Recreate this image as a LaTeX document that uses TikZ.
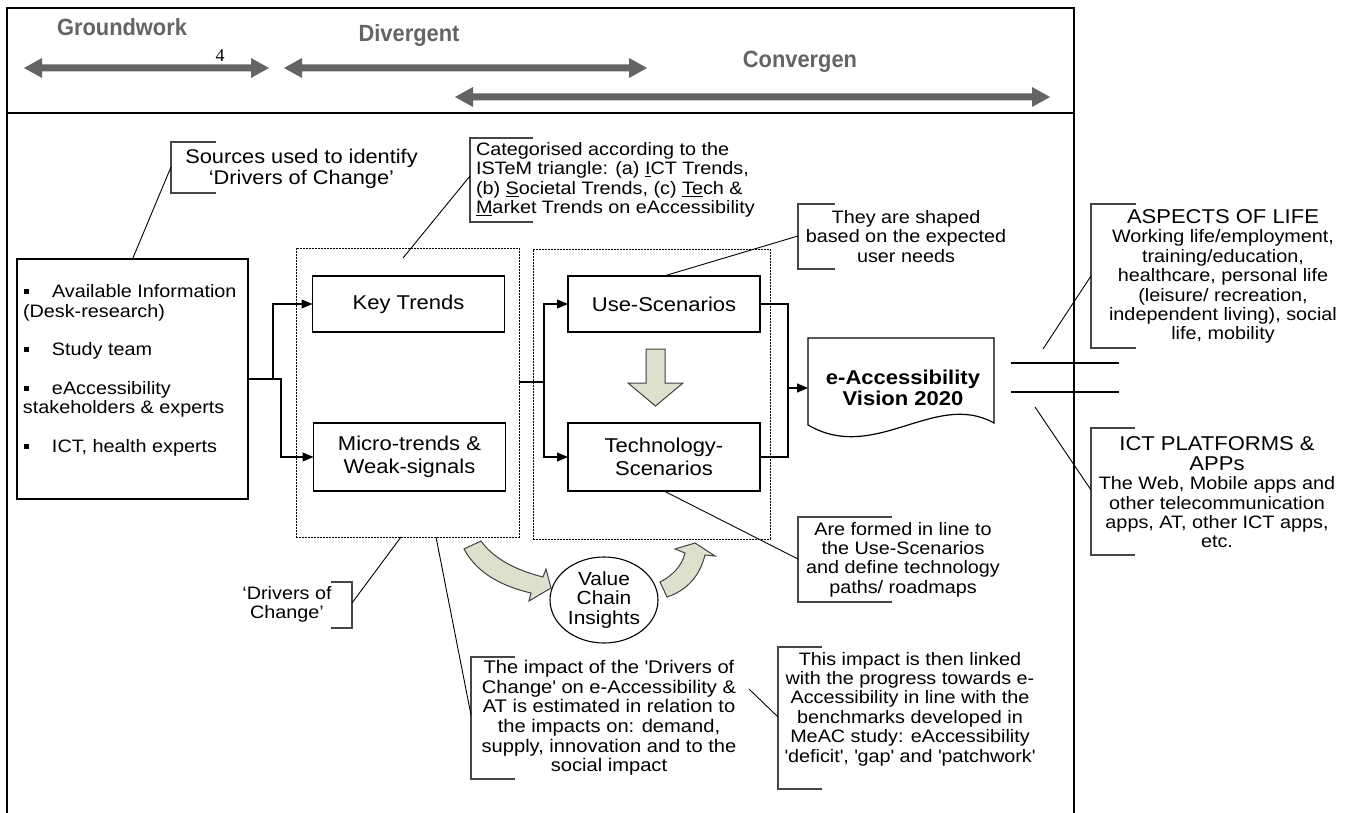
\documentclass[tikz,border=0pt]{standalone}
\usepackage{fontspec}
\setmainfont{Liberation Sans}[FakeStretch=1.1]
\newfontfamily\numfont{Liberation Serif}
\newfontfamily\phasefont{Liberation Sans}[FakeStretch=0.93]
\usetikzlibrary{arrows.meta,calc,shapes.geometric}
\definecolor{arrgray}{RGB}{100,100,100}
\definecolor{sage}{RGB}{220,224,205}
\definecolor{brk}{RGB}{70,70,70}
\newcommand{\PhaseArrow}[3]{\fill[arrgray] (#1,#3) -- (#1+18,#3-10) -- (#1+18,#3-3.5) -- (#2-18,#3-3.5) -- (#2-18,#3-10) -- (#2,#3) -- (#2-18,#3+10) -- (#2-18,#3+3.5) -- (#1+18,#3+3.5) -- (#1+18,#3+10) -- cycle;}
\newcommand{\bul}{\hspace*{1pt}\rule[3.5pt]{5pt}{5pt}\hspace*{23pt}}
\begin{document}
\begin{tikzpicture}[x=1pt,y=-1pt,
  every node/.style={inner sep=0pt, outer sep=0pt},
  box/.style={draw, line width=1.2pt, minimum width=192pt, font=\fontsize{20}{23}\selectfont, align=center},
  cont/.style={draw, line width=0.9pt, dash pattern=on 1.6pt off 1.4pt},
  conn/.style={draw, line width=1.1pt, -{Triangle[length=11pt,width=9pt]}},
  plain/.style={draw, line width=1.1pt},
  note/.style={font=\fontsize{18}{19.4}\selectfont, align=center},
  brack/.style={draw=brk, line width=1.3pt},
  lead/.style={draw, line width=0.9pt},
  frame/.style={draw, line width=2.5pt},
  phase/.style={font=\phasefont\fontsize{23.5}{26}\selectfont\bfseries, text=arrgray},
  blockarr/.style={draw=black!75, line width=1pt, fill=sage},
]
\useasboundingbox (0,0) rectangle (1353,813);

% frame
\draw[frame] (7,813) -- (7,8) -- (1074,8) -- (1074,813);
\draw[frame] (7,113) -- (1074,113);

% phases
\node[phase] (gw) at (122,27) {Groundwork};
\node[phase] (dv) at (409,35) {Divergent};
\node[phase] (cv) at (800,62) {Convergen};
\node[font=\numfont\fontsize{18}{20}\selectfont] (four) at (220,56) {4};
\PhaseArrow{24}{269}{68}
\PhaseArrow{284}{647}{68}
\PhaseArrow{455}{1050}{97}

% sources box
\node[draw, line width=1.2pt, minimum width=231pt, minimum height=240pt] (src) at (132.5,379) {};
\node[note, align=left, anchor=west] (srctxt) at (23,370.5) {\bul Available Information\\(Desk-research)\\[19.3pt]\bul Study team\\[19.3pt]\bul eAccessibility\\stakeholders \& experts\\[19.3pt]\bul ICT, health experts};

% sources callout
\node[note, font=\fontsize{19.8}{21}\selectfont] (srcnote) at (301.5,168.5) {Sources used to identify\\‘Drivers of Change’};
\draw[brack] (216,142) -- (171,142) -- (171,193) -- (216,193);
\coordinate (srcL) at (171,167);
\draw[lead] (srcL) -- (src.north);

% containers
\node[cont, minimum width=223pt, minimum height=289pt] (c1) at (407.5,392.5) {};
\node[cont, minimum width=237pt, minimum height=290pt] (c2) at (651.5,394) {};

% boxes
\node[box, minimum height=56pt] (key) at (408.5,304) {Key Trends};
\node[box, minimum height=68pt] (micro) at (409.5,457) {Micro-trends \&\\Weak-signals};
\node[box, minimum height=56pt] (use) at (664,304) {Use-Scenarios};
\node[box, minimum height=68pt] (tech) at (664,457) {Technology-\\Scenarios};

% connectors
\draw[conn] (src.east) -- ++(25,0) |- (key.west);
\draw[conn] (src.east) -- ++(33,0) |- (micro.west);
\coordinate (j1) at (544,382);
\draw[plain] (c1.east |- j1) -- (j1);
\draw[conn] (j1) |- (use.west);
\draw[conn] (j1) |- (tech.west);

% document
\node[minimum width=186pt, minimum height=87pt] (doc) at (901,381.5) {};
\draw[line width=1.2pt, fill=white] (doc.north west) -- (doc.north east) -- (994,423) .. controls (935,390) and (875,464) .. (808,425) -- cycle;
\node[font=\fontsize{20}{21}\selectfont\bfseries, align=center] (doctxt) at (903,387.5) {e-Accessibility\\Vision 2020};
\coordinate (j2) at (788,388);
\draw[plain] (use.east) -| (j2);
\draw[plain] (tech.east) -| (j2);
\draw[conn] (j2) -- (doc.west |- j2);

% block arrows
\draw[blockarr] (646,349) -- (665,349) -- (665,383) -- (683,383) -- (655.5,406) -- (628,383) -- (646,383) -- cycle;
\node[draw, ellipse, line width=1.1pt, minimum width=108pt, minimum height=86pt, note, font=\fontsize{19}{19.5}\selectfont] (vci) at (604,600) {Value\\Chain\\Insights};
\draw[blockarr] (464,549) -- (481,541) .. controls (493,558) and (515,570) .. (543,577) -- (546,569) -- (551,588) -- (529,601) -- (531,593) .. controls (505,587) and (478,575) .. (464,549) -- cycle;
\draw[blockarr] (660,582) .. controls (672,576) and (682,566) .. (685,553) -- (675,549) -- (695,543) -- (715,556) -- (705,555) .. controls (700,575) and (688,590) .. (667,597) -- cycle;

% categorised callout
\node[note, align=left, anchor=west] (catnote) at (476,180) {Categorised according to the\\ISTeM triangle: (a) \underline{I}CT Trends,\\(b) \underline{S}ocietal Trends, (c) \underline{Te}ch \&\\\underline{M}arket Trends on eAccessibility};
\draw[brack] (533,138) -- (470,138) -- (470,222) -- (533,222);
\coordinate (catL) at (470,176);
\coordinate (catE) at (403,258);
\draw[lead] (catL) -- (catE);

% shaped callout
\node[note] (shapenote) at (906,236.5) {They are shaped\\based on the expected\\user needs};
\draw[brack] (835,204) -- (798,204) -- (798,269) -- (835,269);
\coordinate (shapeL) at (798,236);
\draw[lead] (shapeL) -- (use.north);

% formed callout
\node[note] (formnote) at (903,559.5) {Are formed in line to\\the Use-Scenarios\\and define technology\\paths/ roadmaps};
\draw[brack] (892,517) -- (798,517) -- (798,602) -- (892,602);
\coordinate (formL) at (798,559);
\draw[lead] (formL) -- (tech.south);

% right lines
\coordinate (r1a) at (1011,363); \coordinate (r1b) at (1119,363);
\coordinate (r2a) at (1011,392); \coordinate (r2b) at (1119,392);
\draw[plain] (r1a) -- (r1b);
\draw[plain] (r2a) -- (r2b);

% aspects callout
\node[note] (lifenote) at (1223,276.5) {{\fontsize{20}{20}\selectfont ASPECTS OF LIFE}\\Working life/employment,\\training/education,\\healthcare, personal life\\(leisure/ recreation,\\independent living), social\\life, mobility};
\draw[brack] (1136,204) -- (1091,204) -- (1091,348) -- (1136,348);
\coordinate (lifeL) at (1091,276);
\coordinate (lifeE) at (1043,349);
\draw[lead] (lifeL) -- (lifeE);

% ICT callout
\node[note] (ictnote) at (1217,492.5) {{\fontsize{20}{22}\selectfont ICT PLATFORMS \&}\\{\fontsize{20}{22}\selectfont APPs}\\The Web, Mobile apps and\\other telecommunication\\apps, AT, other ICT apps,\\etc.};
\draw[brack] (1135,428) -- (1091,428) -- (1091,555) -- (1135,555);
\coordinate (ictL) at (1091,490);
\coordinate (ictE) at (1035,407);
\draw[lead] (ictL) -- (ictE);

% drivers callout
\node[note] (drvnote) at (287,604.5) {‘Drivers of\\Change’};
\draw[brack] (331,582) -- (352,582) -- (352,628) -- (331,628);
\coordinate (drvL) at (352,603);
\coordinate (drvE) at ($(c1.south)+(-6.5,0)$);
\draw[lead] (drvL) -- (drvE);

% impact callout
\node[note, font=\fontsize{18.3}{19.6}\selectfont] (impnote) at (609,718) {The impact of the \textquotesingle Drivers of\\Change\textquotesingle{} on e-Accessibility \&\\AT is estimated in relation to\\the impacts on: demand,\\supply, innovation and to the\\social impact};
\draw[brack] (515,657) -- (471,657) -- (471,779) -- (515,779);
\coordinate (impL) at (471,715);
\coordinate (impE) at ($(c1.south)+(28.5,0)$);
\draw[lead] (impL) -- (impE);

% link callout
\node[note] (linknote) at (910,709) {This impact is then linked\\with the progress towards e-\\Accessibility in line with the\\benchmarks developed in\\MeAC study: eAccessibility\\\textquotesingle deficit\textquotesingle, \textquotesingle gap\textquotesingle{} and \textquotesingle patchwork\textquotesingle};
\draw[brack] (822,647) -- (778,647) -- (778,789) -- (822,789);
\coordinate (linkL) at (778,717);
\coordinate (linkE) at (749,689);
\draw[lead] (linkL) -- (linkE);
\end{tikzpicture}
\end{document}
